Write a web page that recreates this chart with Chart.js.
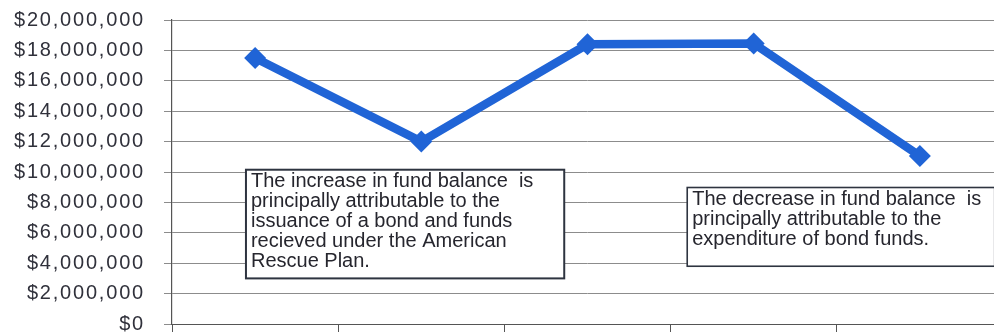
<!DOCTYPE html>
<html>
<head>
<meta charset="utf-8">
<script src="https://cdn.jsdelivr.net/npm/chart.js@4.4.1/dist/chart.umd.min.js"></script>
<style>
  html, body { margin: 0; padding: 0; background: #fff; overflow: hidden; }
  #wrap { position: absolute; left: 0; top: 0; width: 1014px; height: 335px; }
</style>
</head>
<body>
<div id="wrap"><canvas id="c"></canvas></div>
<script>
// Fund balance by period (five periods, labels not shown on the axis)
const periods = ['1', '2', '3', '4', '5'];
const fundBalance = [17500000, 12000000, 18400000, 18450000, 11050000];

// Value axis range and step
const yMin = 0;
const yMax = 20000000;
const yStep = 2000000;

// Explanatory notes placed inside the plot
const increaseNote = [
  'The increase in fund balance  is',
  'principally attributable to the',
  'issuance of a bond and funds',
  'recieved under the American',
  'Rescue Plan.'
];
const decreaseNote = [
  'The decrease in fund balance  is',
  'principally attributable to the',
  'expenditure of bond funds.'
];

// Note boxes, expressed in axis units (category index / dollar value)
const noteBoxes = [
  { lines: increaseNote, x0: -0.055, x1: 1.86, yTop: 10150000, yBottom: 3000000, border: 2 },
  { lines: decreaseNote, x0: 2.60, x1: 4.45, yTop: 8980000, yBottom: 3800000, border: 1.6 }
];

const money = v => '$' + Number(v).toLocaleString('en-US');

const spacedTicks = {
  id: 'spacedTicks',
  beforeDraw(chart) {
    chart.ctx.letterSpacing = '1.8px';
  },
  afterDatasetsDraw(chart) {
    chart.ctx.letterSpacing = '0px';
  }
};

const notes = {
  id: 'notes',
  afterDraw(chart) {
    const ctx = chart.ctx;
    const xs = chart.scales.x, ys = chart.scales.y;
    ctx.save();
    ctx.letterSpacing = '0px';
    noteBoxes.forEach(b => {
      const l = xs.getPixelForValue(b.x0);
      const r = xs.getPixelForValue(b.x1);
      const t = ys.getPixelForValue(b.yTop);
      const btm = ys.getPixelForValue(b.yBottom);
      ctx.fillStyle = '#ffffff';
      ctx.fillRect(l, t, r - l, btm - t);
      ctx.lineWidth = b.border;
      ctx.strokeStyle = '#2e3440';
      ctx.strokeRect(l, t, r - l, btm - t);
      ctx.fillStyle = '#26262e';
      ctx.font = '20px "Liberation Sans", Arial, sans-serif';
      ctx.textBaseline = 'middle';
      ctx.textAlign = 'left';
      b.lines.forEach((s, i) => {
        ctx.fillText(s, l + 5, t + 12 + i * 20);
      });
    });
    ctx.restore();
  }
};

new Chart(document.getElementById('c'), {
  type: 'line',
  data: {
    labels: periods,
    datasets: [{
      data: fundBalance,
      borderColor: '#2064d6',
      backgroundColor: '#2064d6',
      borderWidth: 8.5,
      borderJoinStyle: 'miter',
      pointStyle: 'rectRot',
      pointRadius: 11,
      pointHoverRadius: 11,
      pointBorderWidth: 0,
      tension: 0,
      fill: false
    }]
  },
  options: {
    responsive: true,
    maintainAspectRatio: false,
    animation: false,
    events: [],
    layout: { padding: { left: 0, right: 0, top: 20, bottom: 0 } },
    plugins: {
      legend: { display: false },
      tooltip: { enabled: false },
      title: { display: false }
    },
    scales: {
      x: {
        type: 'category',
        offset: true,
        afterFit(s) {
          s.height = 10;
          s.paddingLeft = 0; s.paddingRight = 0;
          s.paddingTop = 0; s.paddingBottom = 0;
        },
        grid: {
          offset: true,
          drawOnChartArea: false,
          drawTicks: true,
          tickLength: 8,
          color: '#555'
        },
        border: { display: true, color: '#555', width: 1 },
        ticks: { display: false }
      },
      y: {
        min: yMin,
        max: yMax,
        afterFit(s) {
          s.width = 172;
          s.paddingTop = 0; s.paddingBottom = 0;
          s.paddingLeft = 0; s.paddingRight = 0;
        },
        grid: {
          color: '#8c8c8c',
          lineWidth: 1,
          drawTicks: true,
          tickLength: 8
        },
        border: { display: true, color: '#555', width: 1.2 },
        ticks: {
          stepSize: yStep,
          padding: 19,
          color: '#30313b',
          font: { family: '"Liberation Sans", Arial, sans-serif', size: 20 },
          callback: v => money(v)
        }
      }
    }
  },
  plugins: [spacedTicks, notes]
});
</script>
</body>
</html>
